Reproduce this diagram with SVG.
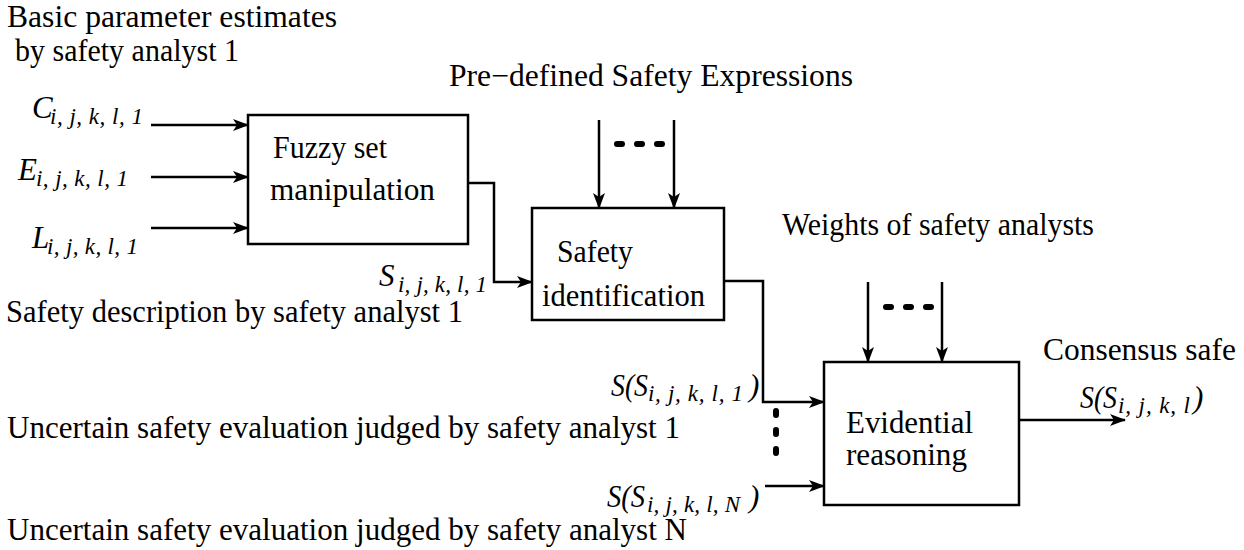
<svg xmlns="http://www.w3.org/2000/svg" width="1244" height="550" viewBox="0 0 1244 550" font-family="'Liberation Serif', 'DejaVu Serif', serif">
<style>
.t{font-size:31px;fill:#000}
.m{font-style:italic;font-size:31px;fill:#000}
.s{font-style:italic;font-size:23px;fill:#000}
.box{fill:#fff;stroke:#000;stroke-width:2.5}
.ln{fill:none;stroke:#000;stroke-width:2.5}
.dots{fill:none;stroke:#000;stroke-width:6;stroke-linecap:round}
</style>
<defs>
<marker id="ah" markerUnits="userSpaceOnUse" markerWidth="16" markerHeight="12" refX="15" refY="6" orient="auto">
<path d="M0,0 L16,6 L0,12 L4,6 Z" fill="#000"/>
</marker>
</defs>
<rect width="1244" height="550" fill="#fff"/>

<g id="connectors">
<line class="ln" x1="151" y1="125" x2="248" y2="125" marker-end="url(#ah)"/>
<line class="ln" x1="151" y1="177" x2="248" y2="177" marker-end="url(#ah)"/>
<line class="ln" x1="151" y1="228" x2="248" y2="228" marker-end="url(#ah)"/>
<polyline class="ln" points="468,183 494,183 494,282 532,282" marker-end="url(#ah)"/>
<line class="ln" x1="599" y1="120" x2="599" y2="208" marker-end="url(#ah)"/>
<line class="ln" x1="674" y1="120" x2="674" y2="208" marker-end="url(#ah)"/>
<line class="dots" x1="617" y1="144" x2="662" y2="144" stroke-dasharray="5 15"/>
<polyline class="ln" points="724,281 763,281 763,402 824,402" marker-end="url(#ah)"/>
<line class="ln" x1="765" y1="486" x2="824" y2="486" marker-end="url(#ah)"/>
<line class="dots" x1="776" y1="411" x2="776" y2="468" stroke-width="5" stroke-dasharray="4 15"/>
<line class="ln" x1="868" y1="282" x2="868" y2="362" marker-end="url(#ah)"/>
<line class="ln" x1="942" y1="282" x2="942" y2="362" marker-end="url(#ah)"/>
<line class="dots" x1="886" y1="307" x2="931" y2="307" stroke-dasharray="5 15"/>
<line class="ln" x1="1019" y1="420" x2="1125" y2="420" marker-end="url(#ah)"/>
</g>

<g id="fuzzy">
<rect class="box" x="248" y="115" width="220" height="129"/>
<text class="t" x="273" y="158" textLength="114" lengthAdjust="spacingAndGlyphs">Fuzzy set</text>
<text class="t" x="270" y="200" textLength="165" lengthAdjust="spacingAndGlyphs">manipulation</text>
</g>

<g id="safety-identification">
<rect class="box" x="532" y="208" width="192" height="112"/>
<text class="t" x="557" y="262" textLength="76" lengthAdjust="spacingAndGlyphs">Safety</text>
<text class="t" x="542" y="306" textLength="163" lengthAdjust="spacingAndGlyphs">identification</text>
</g>

<g id="evidential">
<rect class="box" x="824" y="362" width="195" height="143"/>
<text class="t" x="846" y="433" textLength="127" lengthAdjust="spacingAndGlyphs">Evidential</text>
<text class="t" x="846" y="465" textLength="121" lengthAdjust="spacingAndGlyphs">reasoning</text>
</g>

<g id="labels">
<text class="t" x="7" y="27" textLength="330" lengthAdjust="spacingAndGlyphs">Basic parameter estimates</text>
<text class="t" x="15" y="61" textLength="224" lengthAdjust="spacingAndGlyphs">by safety analyst 1</text>
<text class="t" x="449" y="86" textLength="404" lengthAdjust="spacingAndGlyphs">Pre−defined Safety Expressions</text>
<text class="t" x="782" y="235" textLength="312" lengthAdjust="spacingAndGlyphs">Weights of safety analysts</text>
<text class="t" x="1043" y="360" textLength="193" lengthAdjust="spacingAndGlyphs">Consensus safe</text>
<text class="t" x="6" y="322" textLength="457" lengthAdjust="spacingAndGlyphs">Safety description by safety analyst 1</text>
<text class="t" x="7" y="438" textLength="673" lengthAdjust="spacingAndGlyphs">Uncertain safety evaluation judged by safety analyst 1</text>
<text class="t" x="7" y="540" textLength="680" lengthAdjust="spacingAndGlyphs">Uncertain safety evaluation judged by safety analyst N</text>

<text class="m" x="32" y="118">C</text>
<text class="s" x="50" y="124" textLength="93" lengthAdjust="spacing">i, j, k, l, 1</text>
<text class="m" x="18" y="180">E</text>
<text class="s" x="36" y="186" textLength="92" lengthAdjust="spacing">i, j, k, l, 1</text>
<text class="m" x="32" y="248">L</text>
<text class="s" x="47" y="254" textLength="91" lengthAdjust="spacing">i, j, k, l, 1</text>
<text class="m" x="379" y="286">S</text>
<text class="s" x="398" y="292" textLength="89" lengthAdjust="spacing">i, j, k, l, 1</text>

<text class="m" x="611" y="396" textLength="37" lengthAdjust="spacingAndGlyphs">S(S</text>
<text class="s" x="648" y="401" textLength="95" lengthAdjust="spacing">i, j, k, l, 1</text>
<text class="m" x="749" y="396">)</text>

<text class="m" x="607" y="507" textLength="38" lengthAdjust="spacingAndGlyphs">S(S</text>
<text class="s" x="647" y="512" textLength="93" lengthAdjust="spacing">i, j, k, l, N</text>
<text class="m" x="749" y="507">)</text>

<text class="m" x="1080" y="408" textLength="37" lengthAdjust="spacingAndGlyphs">S(S</text>
<text class="s" x="1118" y="413" textLength="72" lengthAdjust="spacing">i, j, k, l</text>
<text class="m" x="1193" y="408">)</text>
</g>
</svg>
